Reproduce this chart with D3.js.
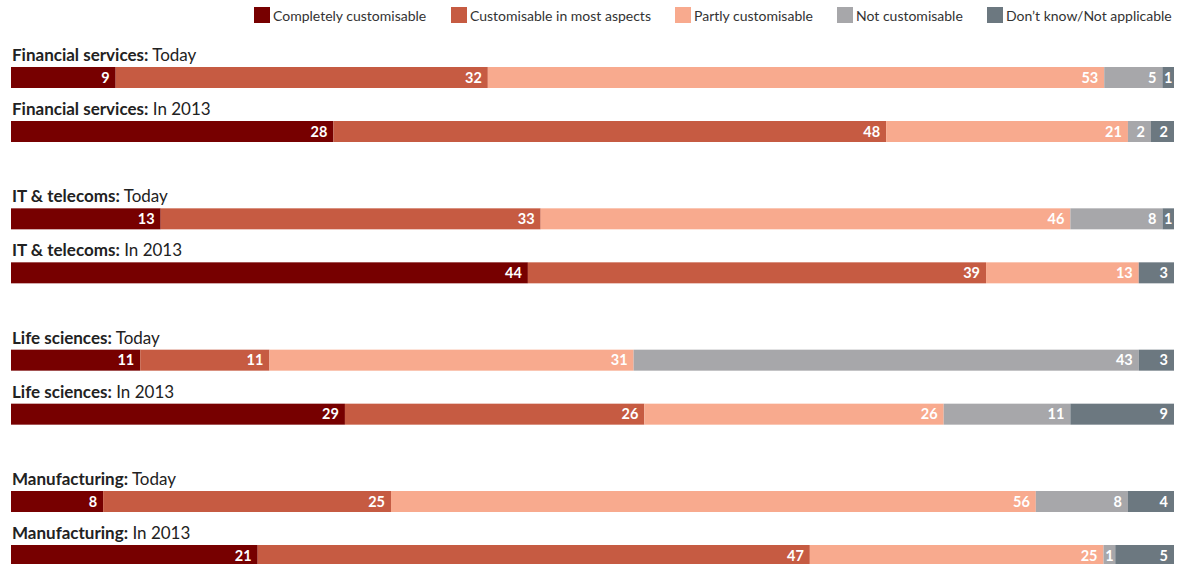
<!DOCTYPE html>
<html>
<head>
<meta charset="utf-8">
<script src="https://cdn.jsdelivr.net/npm/d3@7"></script>
<style>
  html, body { margin: 0; padding: 0; background: #fff; }
  svg { display: block; }
  text { font-family: Lato, "Open Sans", sans-serif; }
</style>
</head>
<body>
<svg id="chart" width="1187" height="564"></svg>
<script>
// Answer categories (stack order, left to right)
const categories = [
  "Completely customisable",
  "Customisable in most aspects",
  "Partly customisable",
  "Not customisable",
  "Don\u2019t know/Not applicable"
];
const colors = ["#770000", "#c65b42", "#f8aa8e", "#a7a7aa", "#6c7880"];

// Sectors, each with a "Today" and "In 2013" row
const sectors = ["Financial services", "IT & telecoms", "Life sciences", "Manufacturing"];
const periods = ["Today", "In 2013"];

// Percent of respondents per row, in category order
const financialToday   = [9, 32, 53, 5, 1];
const financial2013    = [28, 48, 21, 2, 2];
const itToday          = [13, 33, 46, 8, 1];
const it2013           = [44, 39, 13, 0, 3];
const lifeToday        = [11, 11, 31, 43, 3];
const life2013         = [29, 26, 26, 11, 9];
const manufToday       = [8, 25, 56, 8, 4];
const manuf2013        = [21, 47, 25, 1, 5];

const rows = [
  { sector: sectors[0], period: periods[0], values: financialToday },
  { sector: sectors[0], period: periods[1], values: financial2013 },
  { sector: sectors[1], period: periods[0], values: itToday },
  { sector: sectors[1], period: periods[1], values: it2013 },
  { sector: sectors[2], period: periods[0], values: lifeToday },
  { sector: sectors[2], period: periods[1], values: life2013 },
  { sector: sectors[3], period: periods[0], values: manufToday },
  { sector: sectors[3], period: periods[1], values: manuf2013 }
];

const svg = d3.select("#chart");
const left = 11, right = 1174;
const barH = 21;

// Vertical layout: groups by sector, rows by period within a group
const yGroup = d3.scalePoint().domain(sectors).range([67, 491]);
const yRow = d3.scalePoint().domain(periods).range([0, 54]);

// Legend
const legend = svg.append("g").attr("class", "legend");
const legendX = [254, 451, 675, 837, 987];
categories.forEach((c, i) => {
  const g = legend.append("g").attr("transform", `translate(${legendX[i]},7)`);
  g.append("rect").attr("width", 16).attr("height", 16).attr("fill", colors[i]);
  g.append("text")
    .attr("x", 19).attr("y", 14)
    .attr("font-size", 14)
    .attr("fill", "#333")
    .text(c);
});

// Rows
rows.forEach(row => {
  const y0 = yGroup(row.sector) + yRow(row.period);
  const total = d3.sum(row.values);
  const x = d3.scaleLinear().domain([0, total]).range([left, right]);

  const g = svg.append("g").attr("class", "row");

  const title = g.append("text")
    .attr("x", 12).attr("y", y0 - 6)
    .attr("font-size", 17)
    .attr("fill", "#222");
  title.append("tspan").attr("font-weight", "bold").text(row.sector + ":");
  title.append("tspan").text(" " + row.period);

  let acc = 0;
  const segs = row.values.map((v, i) => {
    const s = { v, i, start: acc, end: acc + v };
    acc += v;
    return s;
  }).filter(s => s.v > 0);

  g.selectAll("rect.seg").data(segs).join("rect")
    .attr("class", "seg")
    .attr("x", d => x(d.start))
    .attr("y", y0)
    .attr("width", d => x(d.end) - x(d.start))
    .attr("height", barH)
    .attr("fill", d => colors[d.i]);

  // Value labels: right-aligned inside each segment, centred when the segment is narrow
  g.selectAll("text.val").data(segs).join("text")
    .attr("class", "val")
    .attr("y", y0 + barH / 2)
    .attr("dy", "0.36em")
    .attr("font-size", 14.5)
    .attr("font-weight", "bold")
    .attr("fill", "#fff")
    .text(d => d.v)
    .each(function(d) {
      const w = x(d.end) - x(d.start);
      const tw = this.getComputedTextLength();
      const t = d3.select(this);
      if (w < tw + 10) {
        t.attr("x", (x(d.start) + x(d.end)) / 2).attr("text-anchor", "middle");
      } else {
        t.attr("x", x(d.end) - 6).attr("text-anchor", "end");
      }
    });
});
</script>
</body>
</html>
